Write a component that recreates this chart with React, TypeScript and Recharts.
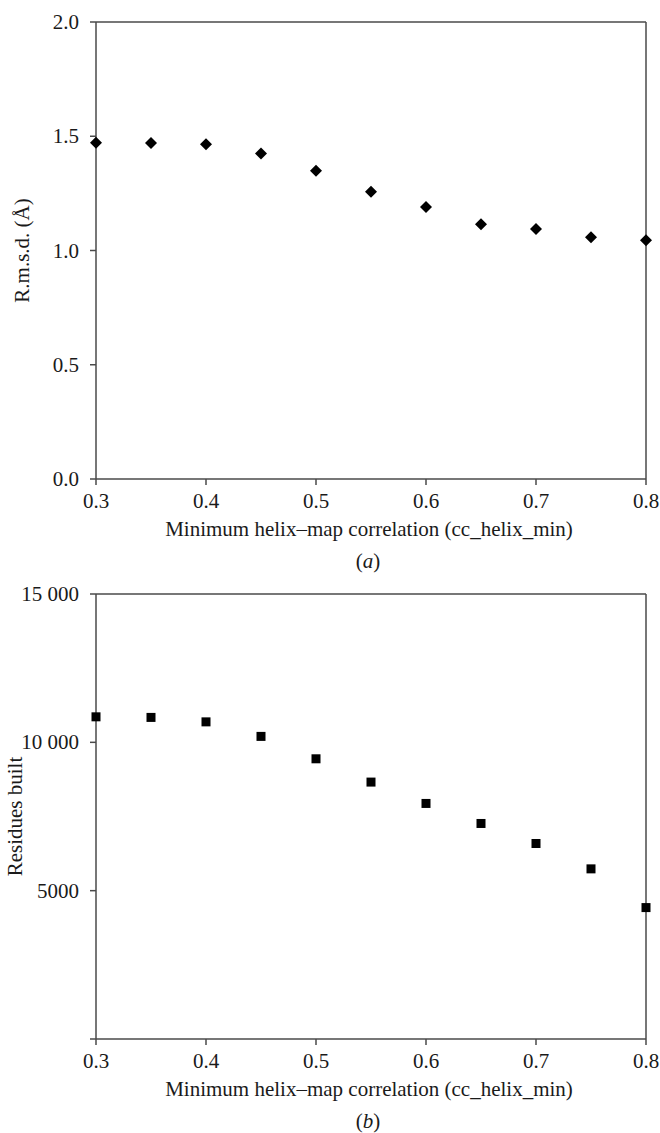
import { Label, ReferenceLine, Scatter, ScatterChart, XAxis, YAxis } from "recharts";

// cc_helix_min values on the x axis
const cutoffs = [0.3, 0.35, 0.4, 0.45, 0.5, 0.55, 0.6, 0.65, 0.7, 0.75, 0.8];
const rmsd = [1.472, 1.47, 1.465, 1.424, 1.349, 1.257, 1.19, 1.115, 1.094, 1.058, 1.045];
const residues = [10860, 10840, 10690, 10200, 9445, 8660, 7940, 7265, 6590, 5735, 4430];

const cutoffTicks = [0.3, 0.4, 0.5, 0.6, 0.7, 0.8];
const rmsdTicks = [0, 0.5, 1, 1.5, 2];
const residueTicks = [0, 5000, 10000, 15000];
const residueTickLabels = ["", "5000", "10 000", "15 000"];

const xTitle = "Minimum helix–map correlation (cc_helix_min)";

const rmsdData = cutoffs.map((c, i) => ({ cc: c, v: rmsd[i] }));
const residueData = cutoffs.map((c, i) => ({ cc: c, v: residues[i] }));

const FONT = "'Liberation Serif', 'Times New Roman', serif";
const FS = 21;
const INK = "#1a1a1a";
const AXIS = "#4a4a4a";

const XTick = ({ x, y, payload }: any) => (
  <text x={x} y={y} dy={23} textAnchor="middle" fontFamily={FONT} fontSize={FS} fill={INK}>
    {payload.value.toFixed(1)}
  </text>
);

const makeYTick = (fmt: (v: number) => string) => ({ x, y, payload }: any) => (
  <text x={x - 11} y={y} dy={7} textAnchor="end" fontFamily={FONT} fontSize={FS} fill={INK}>
    {fmt(payload.value)}
  </text>
);

const Diamond = ({ cx, cy }: any) => (
  <polygon points={`${cx},${cy - 6} ${cx + 6},${cy} ${cx},${cy + 6} ${cx - 6},${cy}`} fill="#000" />
);

const Square = ({ cx, cy }: any) => <rect x={cx - 4.5} y={cy - 4.5} width={9} height={9} fill="#000" />;

const xTitleLabel = (tag: string) => (props: any) => {
  const { x, y, width } = props.viewBox;
  const cx = x + width / 2;
  return (
    <g fontFamily={FONT} fontSize={FS} fill={INK}>
      <text x={cx - 2} y={y + 57} textAnchor="middle">{xTitle}</text>
      <text x={cx - 3} y={y + 89} textAnchor="middle">
        (<tspan fontStyle="italic">{tag}</tspan>)
      </text>
    </g>
  );
};

const yTitleLabel = (text: string, bx: number) => (props: any) => {
  const { y, height } = props.viewBox;
  const cy = y + height / 2;
  return (
    <text
      x={bx}
      y={cy}
      transform={`rotate(-90, ${bx}, ${cy})`}
      textAnchor="middle"
      fontFamily={FONT}
      fontSize={FS}
      fill={INK}
    >
      {text}
    </text>
  );
};

export default function App() {
  return (
    <div style={{ position: "absolute", top: 0, left: 0, width: 660, height: 1133, overflow: "hidden", background: "#fff" }}>
      <ScatterChart width={660} height={580} margin={{ top: 22, right: 14, bottom: 0, left: 0 }}>
        <XAxis
          type="number"
          dataKey="cc"
          domain={[0.3, 0.8]}
          ticks={cutoffTicks}
          height={101}
          tickSize={6}
          tickMargin={0}
          stroke={AXIS}
          strokeWidth={1.5}
          tick={<XTick />}
        >
          <Label content={xTitleLabel("a")} />
        </XAxis>
        <YAxis
          type="number"
          dataKey="v"
          domain={[0, 2]}
          ticks={rmsdTicks}
          width={96}
          tickSize={6}
          tickMargin={0}
          stroke={AXIS}
          strokeWidth={1.5}
          tick={makeYTick((v) => v.toFixed(1))}
        >
          <Label content={yTitleLabel("R.m.s.d. (Å)", 29)} />
        </YAxis>
        <ReferenceLine y={2} stroke={AXIS} strokeWidth={1.5} />
        <ReferenceLine x={0.8} stroke={AXIS} strokeWidth={1.5} />
        <Scatter data={rmsdData} shape={<Diamond />} isAnimationActive={false} />
      </ScatterChart>
      <ScatterChart width={660} height={553} margin={{ top: 14, right: 14, bottom: 0, left: 0 }}>
        <XAxis
          type="number"
          dataKey="cc"
          domain={[0.3, 0.8]}
          ticks={cutoffTicks}
          height={94}
          tickSize={6}
          tickMargin={0}
          stroke={AXIS}
          strokeWidth={1.5}
          tick={<XTick />}
        >
          <Label content={xTitleLabel("b")} />
        </XAxis>
        <YAxis
          type="number"
          dataKey="v"
          domain={[0, 15000]}
          ticks={residueTicks}
          width={96}
          tickSize={6}
          tickMargin={0}
          stroke={AXIS}
          strokeWidth={1.5}
          tick={makeYTick((v) => residueTickLabels[residueTicks.indexOf(v)])}
        >
          <Label content={yTitleLabel("Residues built", 22)} />
        </YAxis>
        <ReferenceLine y={15000} stroke={AXIS} strokeWidth={1.5} />
        <ReferenceLine x={0.8} stroke={AXIS} strokeWidth={1.5} />
        <Scatter data={residueData} shape={<Square />} isAnimationActive={false} />
      </ScatterChart>
    </div>
  );
}
